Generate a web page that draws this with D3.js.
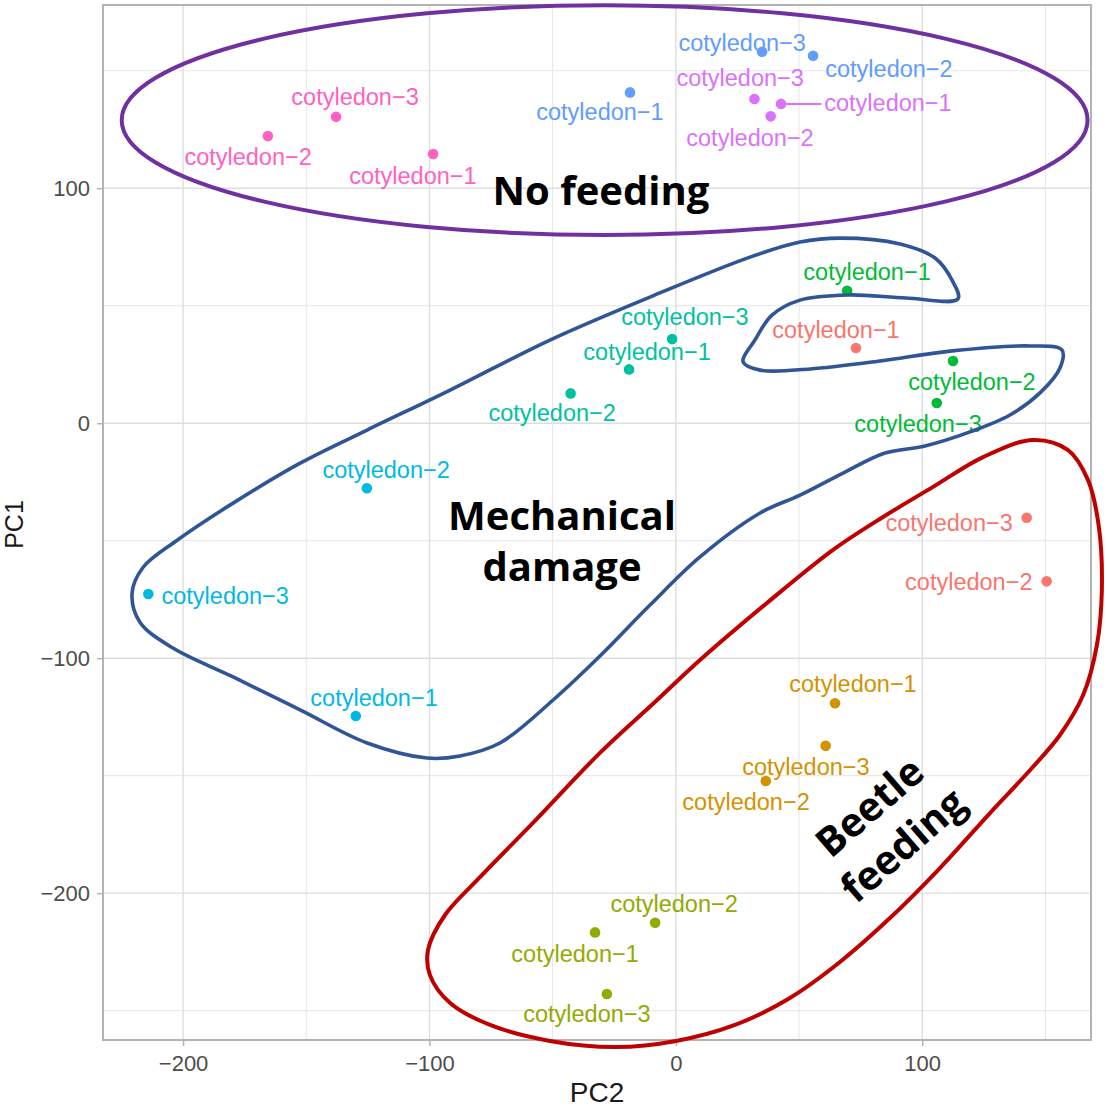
<!DOCTYPE html>
<html>
<head>
<meta charset="utf-8">
<script src="https://cdn.jsdelivr.net/npm/d3@7"></script>
<style>
  body { margin: 0; background: #fff; }
  svg { display: block; }
</style>
</head>
<body>
<svg id="chart"></svg>
<script>
// PCA scores, one row per sample (group = colour index)
const sampleNames = [
  "cotyledon-1", "cotyledon-3", "cotyledon-2",
  "cotyledon-1", "cotyledon-3", "cotyledon-2",
  "cotyledon-2", "cotyledon-1", "cotyledon-3",
  "cotyledon-1", "cotyledon-2", "cotyledon-3",
  "cotyledon-3", "cotyledon-1", "cotyledon-2",
  "cotyledon-2", "cotyledon-3", "cotyledon-1",
  "cotyledon-3", "cotyledon-2", "cotyledon-1",
  "cotyledon-3", "cotyledon-1", "cotyledon-2",
  "cotyledon-3", "cotyledon-2", "cotyledon-1"
];
const groupIndex = [0,0,0, 1,1,1, 2,2,2, 3,3,3, 4,4,4, 5,5,5, 6,6,6, 7,7,7, 8,8,8];
const pc2 = [
  73.1, 142.4, 150.5,
  64.6, 60.8, 36.5,
  -8.4, -32.8, -28.0,
  69.5, 112.5, 105.9,
  -1.5, -19.0, -42.7,
  -125.4, -214.1, -129.9,
  35.0, 55.7, -18.6,
  31.9, 42.7, 38.5,
  -137.9, -165.6, -98.5
];
const pc1 = [
  32.0, -40.2, -67.3,
  -119.2, -137.3, -152.3,
  -212.6, -216.7, -242.9,
  56.4, 26.5, 8.6,
  35.8, 22.9, 12.7,
  -27.7, -72.7, -124.6,
  158.1, 156.4, 140.8,
  138.0, 135.9, 130.6,
  130.4, 122.2, 114.6
];
// repelled label positions (same units as the scores)
const labelPc2 = [
  65.0, 110.9, 118.9,
  71.9, 52.8, 28.5,
  -0.7, -40.9, -36.1,
  77.6, 120.2, 98.3,
  3.7, -11.7, -50.2,
  -117.6, -182.9, -122.5,
  26.9, 86.5, -30.8,
  26.1, 86.1, 30.1,
  -130.2, -173.6, -106.7
];
const labelPc1 = [
  39.7, -42.5, -67.6,
  -111.0, -146.3, -161.2,
  -204.6, -225.9, -251.5,
  64.4, 17.5, -0.3,
  45.2, 30.3, 4.3,
  -20.1, -73.5, -117.0,
  161.9, 150.7, 132.4,
  146.9, 136.5, 121.4,
  138.8, 113.3, 105.2
];
const groupColors = ["#F8766D", "#D39200", "#93AA00", "#00BA38", "#00C19F",
                     "#00B9E3", "#619CFF", "#DB72FB", "#FF61C3"];

const xMajor = [-200, -100, 0, 100];
const xMinor = [-150, -50, 50, 150];
const yMajor = [-200, -100, 0, 100];
const yMinor = [-250, -150, -50, 50, 150];

// hand-drawn group outlines, in PC2/PC1 units
const noFeedingEllipse = { cx: -28.9, cy: 129.0, rx: 196.0, ry: 48.9 };
const mechanicalOutline = [
  [114.5, 52.9], [93.4, 53.3], [69.9, 54.6], [50.4, 52.4], [39.0, 46.0], [32.1, 35.4],
  [27.3, 26.1], [34.2, 22.6], [54.5, 23.1], [82.9, 26.5], [111.3, 30.7], [143.8, 32.9],
  [156.7, 31.2], [155.9, 23.5], [147.8, 12.9], [135.6, 3.5], [119.4, -3.7], [101.1, -9.7],
  [84.9, -12.7], [67.9, -21.2], [50.4, -30.6], [34.2, -38.2], [9.8, -56.9], [-10.5, -77.4],
  [-30.8, -99.1], [-49.8, -117.8], [-71.4, -136.1], [-87.6, -141.6], [-101.0, -142.5],
  [-125.3, -136.1], [-152.5, -122.0], [-179.7, -108.0], [-204.1, -95.7], [-217.5, -84.7],
  [-220.7, -72.3], [-216.2, -61.3], [-202.4, -49.8], [-179.7, -34.0], [-152.5, -17.0],
  [-125.3, -2.9], [-91.6, 14.1], [-51.1, 35.4], [-10.5, 53.7], [30.1, 70.7], [50.4, 77.1],
  [66.6, 78.8], [91.0, 76.3], [105.2, 70.3], [112.1, 60.9]
];
const beetleOutline = [
  [124.7, -14.4], [145.0, -7.1], [159.2, -11.4], [167.3, -24.2], [171.7, -44.2],
  [172.9, -71.1], [170.9, -94.4], [165.3, -115.7], [155.9, -132.7], [143.8, -147.6],
  [127.5, -165.9], [107.2, -189.3], [86.9, -210.6], [66.6, -229.3], [46.3, -244.6],
  [24.0, -256.1], [0.1, -262.9], [-24.3, -265.5], [-51.1, -262.9], [-75.4, -256.1],
  [-91.6, -246.8], [-99.8, -234.9], [-100.6, -224.2], [-93.7, -209.3], [-79.5, -193.2],
  [-58.0, -170.1], [-30.8, -140.3], [-7.6, -117.8], [9.8, -100.8], [37.0, -76.5],
  [63.8, -53.9], [84.1, -39.9], [104.4, -27.1]
];

const width = 1107;
const height = 1110;
const panel = { left: 103, right: 1091, top: 5, bottom: 1040 };

const svg = d3.select("#chart").attr("width", width).attr("height", height);

const x = d3.scaleLinear().domain([-232.5, 168.5]).range([panel.left, panel.right]);
const y = d3.scaleLinear().domain([-262.5, 178]).range([panel.bottom, panel.top]);

const fmt = d => d < 0 ? "\u2212" + Math.abs(d) : String(d);

// grid
const grid = svg.append("g");
grid.selectAll(".vminor").data(xMinor).enter().append("line")
  .attr("x1", d => x(d)).attr("x2", d => x(d))
  .attr("y1", panel.top).attr("y2", panel.bottom)
  .attr("stroke", "#E6E6E6").attr("stroke-width", 1);
grid.selectAll(".hminor").data(yMinor).enter().append("line")
  .attr("y1", d => y(d)).attr("y2", d => y(d))
  .attr("x1", panel.left).attr("x2", panel.right)
  .attr("stroke", "#E6E6E6").attr("stroke-width", 1);
grid.selectAll(".vmajor").data(xMajor).enter().append("line")
  .attr("x1", d => x(d)).attr("x2", d => x(d))
  .attr("y1", panel.top).attr("y2", panel.bottom)
  .attr("stroke", "#DEDEDE").attr("stroke-width", 1.4);
grid.selectAll(".hmajor").data(yMajor).enter().append("line")
  .attr("y1", d => y(d)).attr("y2", d => y(d))
  .attr("x1", panel.left).attr("x2", panel.right)
  .attr("stroke", "#DEDEDE").attr("stroke-width", 1.4);

// axes
const xAxis = svg.append("g")
  .attr("transform", `translate(0,${panel.bottom})`)
  .call(d3.axisBottom(x).tickValues(xMajor).tickFormat(fmt).tickSize(6).tickPadding(9));
const yAxis = svg.append("g")
  .attr("transform", `translate(${panel.left},0)`)
  .call(d3.axisLeft(y).tickValues(yMajor).tickFormat(fmt).tickSize(6).tickPadding(7));
[xAxis, yAxis].forEach(a => {
  a.select(".domain").remove();
  a.selectAll(".tick line").attr("stroke", "#B3B3B3").attr("stroke-width", 1.5);
  a.selectAll(".tick text")
    .attr("fill", "#4D4D4D")
    .style("font-family", "'Liberation Sans', Arial, sans-serif")
    .style("font-size", "22px");
});

// panel border
svg.append("rect")
  .attr("x", panel.left).attr("y", panel.top)
  .attr("width", panel.right - panel.left).attr("height", panel.bottom - panel.top)
  .attr("fill", "none").attr("stroke", "#B3B3B3").attr("stroke-width", 2);

// axis titles
svg.append("text")
  .attr("x", (panel.left + panel.right) / 2).attr("y", 1102)
  .attr("text-anchor", "middle")
  .style("font-family", "'Liberation Sans', Arial, sans-serif")
  .style("font-size", "28px").attr("fill", "#1A1A1A")
  .text("PC2");
svg.append("text")
  .attr("transform", `translate(23,${(panel.top + panel.bottom) / 2 + 2}) rotate(-90)`)
  .attr("text-anchor", "middle")
  .style("font-family", "'Liberation Sans', Arial, sans-serif")
  .style("font-size", "25px").attr("fill", "#1A1A1A")
  .text("PC1");

const samples = sampleNames.map((name, i) => ({
  name: name.replace("-", "\u2212"),
  group: groupIndex[i],
  pc2: pc2[i], pc1: pc1[i],
  lx: labelPc2[i], ly: labelPc1[i]
}));

// points
svg.append("g").selectAll("circle")
  .data(samples).enter().append("circle")
  .attr("cx", d => x(d.pc2))
  .attr("cy", d => y(d.pc1))
  .attr("r", 5.3)
  .attr("fill", d => groupColors[d.group]);

// labels
const segG = svg.append("g");
const labels = svg.append("g").selectAll("text")
  .data(samples).enter().append("text")
  .attr("x", d => x(d.lx))
  .attr("y", d => y(d.ly))
  .attr("text-anchor", "middle")
  .attr("dominant-baseline", "central")
  .style("font-family", "'Liberation Sans', Arial, sans-serif")
  .style("font-size", "23.5px")
  .attr("fill", d => groupColors[d.group])
  .text(d => d.name);

// leader segments for labels pushed away from their point
labels.each(function (d) {
  const b = this.getBBox();
  const px = x(d.pc2), py = y(d.pc1);
  const nx = Math.max(b.x, Math.min(px, b.x + b.width));
  const ny = Math.max(b.y, Math.min(py, b.y + b.height));
  const dist = Math.hypot(nx - px, ny - py);
  if (dist > 25) {
    const k = (dist - 3) / dist;
    segG.append("line")
      .attr("x1", px).attr("y1", py)
      .attr("x2", px + (nx - px) * k).attr("y2", py + (ny - py) * k)
      .attr("stroke", groupColors[d.group]).attr("stroke-width", 2);
  }
});

// group outlines
const outline = d3.line()
  .x(d => x(d[0])).y(d => y(d[1]))
  .curve(d3.curveCatmullRomClosed.alpha(0.5));

svg.append("ellipse")
  .attr("cx", x(noFeedingEllipse.cx)).attr("cy", y(noFeedingEllipse.cy))
  .attr("rx", x(noFeedingEllipse.cx + noFeedingEllipse.rx) - x(noFeedingEllipse.cx))
  .attr("ry", y(noFeedingEllipse.cy - noFeedingEllipse.ry) - y(noFeedingEllipse.cy))
  .attr("fill", "none").attr("stroke", "#7030A0").attr("stroke-width", 4);

svg.append("path")
  .attr("d", outline(mechanicalOutline))
  .attr("fill", "none").attr("stroke", "#2F5597").attr("stroke-width", 3.6)
  .attr("stroke-linejoin", "round");

svg.append("path")
  .attr("d", outline(beetleOutline))
  .attr("fill", "none").attr("stroke", "#C00000").attr("stroke-width", 4)
  .attr("stroke-linejoin", "round");

// group names
const annot = svg.append("g")
  .style("font-family", "'Open Sans', 'DejaVu Sans', sans-serif")
  .style("font-weight", "700")
  .style("font-size", "40px")
  .attr("fill", "#000");

annot.append("text")
  .attr("x", x(-30.4)).attr("y", y(92.9))
  .attr("text-anchor", "middle")
  .text("No feeding");

annot.append("text")
  .attr("x", x(-46.2)).attr("y", y(-45.5))
  .attr("text-anchor", "middle")
  .text("Mechanical");
annot.append("text")
  .attr("x", x(-46.2)).attr("y", y(-67.2))
  .attr("text-anchor", "middle")
  .text("damage");

const beetle = annot.append("g")
  .attr("transform", `translate(${x(85.3)},${y(-171.3)}) rotate(-41)`);
beetle.append("text").attr("x", 0).attr("y", -11).attr("text-anchor", "middle").text("Beetle");
beetle.append("text").attr("x", 0).attr("y", 40).attr("text-anchor", "middle").text("feeding");
</script>
</body>
</html>
